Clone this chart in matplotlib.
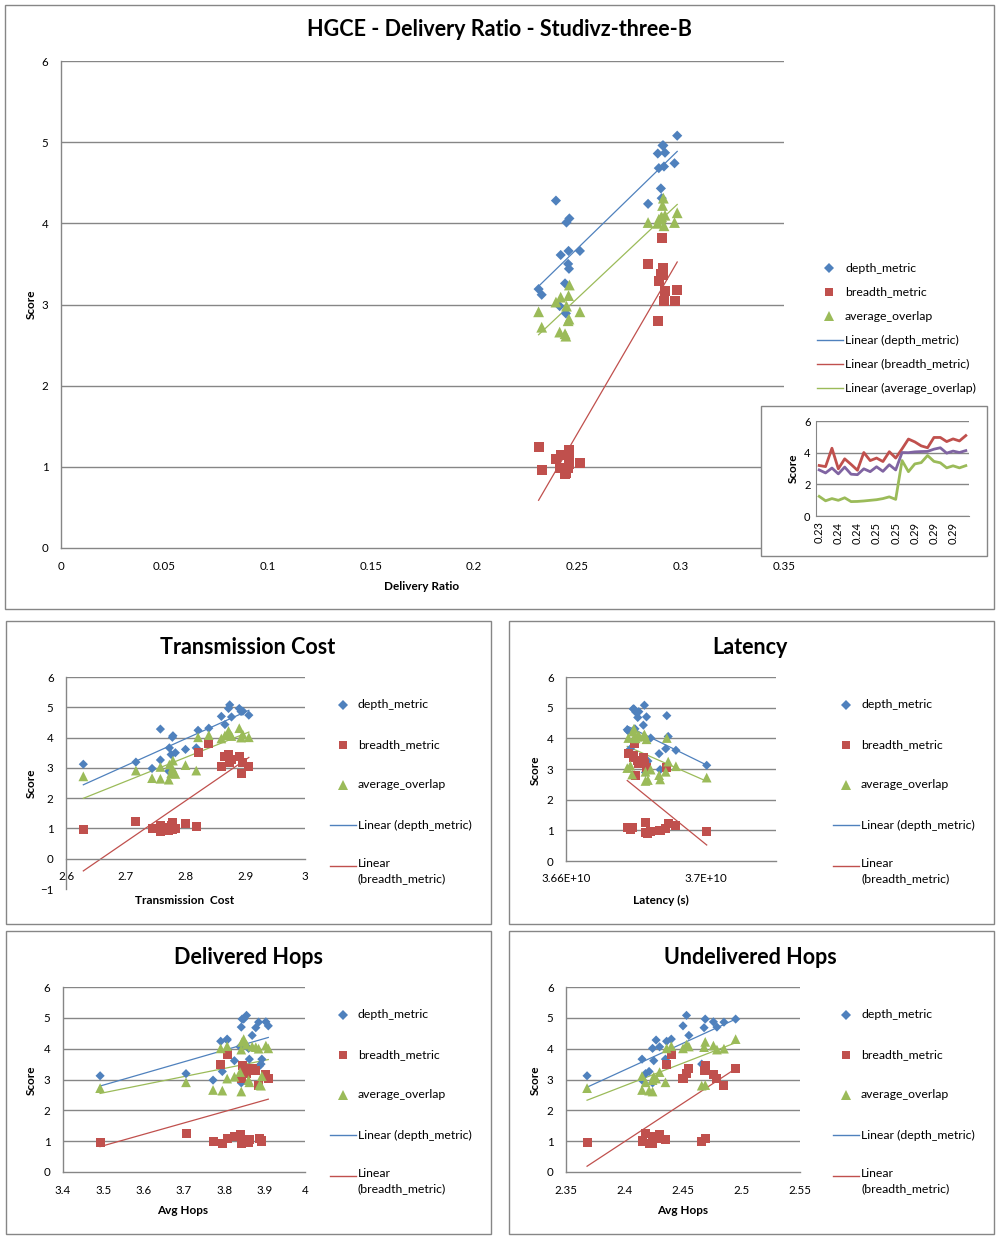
import matplotlib
matplotlib.use("Agg")
import matplotlib.pyplot as plt
import numpy as np
from matplotlib.patches import Rectangle
from matplotlib.lines import Line2D
from matplotlib.ticker import FuncFormatter

plt.rcParams['font.family'] = ['Lato', 'DejaVu Sans']

W, H = 1002, 1242

# one value per simulation run, runs sorted by delivery ratio
delivery_ratio = [0.2312, 0.2327, 0.2396, 0.2414, 0.2419, 0.2440, 0.2444, 0.2447,
                  0.2455, 0.2457, 0.2459, 0.2461, 0.2512, 0.2842, 0.2889, 0.2894,
                  0.2904, 0.2908, 0.2912, 0.2916, 0.2919, 0.2924, 0.2970, 0.2983]
depth_metric = [3.19, 3.12, 4.28, 2.98, 3.61, 3.26, 2.89, 4.01, 3.50, 3.66, 3.44, 4.06,
                3.66, 4.24, 4.86, 4.68, 4.43, 4.31, 4.96, 4.96, 4.70, 4.87, 4.74, 5.08]
breadth_metric = [1.24, 0.96, 1.10, 0.99, 1.15, 0.91, 0.92, 0.95, 0.99, 1.03, 1.10, 1.21,
                  1.05, 3.50, 2.80, 3.29, 3.37, 3.82, 3.45, 3.36, 3.04, 3.17, 3.04, 3.18]
average_overlap = [2.91, 2.72, 3.03, 2.66, 3.09, 2.64, 2.61, 2.98, 2.80, 3.11, 2.82, 3.24,
                   2.91, 4.01, 4.00, 4.05, 4.07, 4.08, 4.22, 4.31, 3.97, 4.10, 4.01, 4.13]
transmission_cost = [2.717, 2.629, 2.758, 2.744, 2.800, 2.758, 2.772, 2.778, 2.783, 2.773,
                     2.776, 2.779, 2.818, 2.821, 2.893, 2.877, 2.866, 2.839, 2.872, 2.890,
                     2.860, 2.896, 2.906, 2.874]
latency = [3.6827e10, 3.7002e10, 3.6775e10, 3.6869e10, 3.6914e10, 3.6834e10, 3.6827e10,
           3.6842e10, 3.6866e10, 3.6784e10, 3.6789e10, 3.6892e10, 3.6885e10, 3.6778e10,
           3.6799e10, 3.6805e10, 3.6821e10, 3.6797e10, 3.6792e10, 3.6794e10, 3.6830e10,
           3.6808e10, 3.6888e10, 3.6824e10]
delivered_hops = [3.705, 3.492, 3.807, 3.772, 3.825, 3.795, 3.842, 3.860, 3.891, 3.893,
                  3.887, 3.839, 3.862, 3.791, 3.885, 3.878, 3.869, 3.807, 3.844, 3.848,
                  3.842, 3.903, 3.909, 3.855]
undelivered_hops = [2.418, 2.368, 2.427, 2.415, 2.425, 2.421, 2.424, 2.424, 2.466, 2.415,
                    2.469, 2.430, 2.435, 2.436, 2.485, 2.468, 2.455, 2.440, 2.469, 2.495,
                    2.479, 2.476, 2.450, 2.453]

series_names = ['depth_metric', 'breadth_metric', 'average_overlap']
series_values = [depth_metric, breadth_metric, average_overlap]
series_colors = ['#4F81BD', '#C0504D', '#9BBB59']
series_markers = ['D', 's', '^']
inset_colors = ['#C0504D', '#9BBB59', '#8064A2']
GRID = '#868686'
TITLE_SIZE = 15.5
TICK_SIZE = 8.3
AXIS_TITLE_SIZE = 8.5
LEGEND_SIZE = 8.8

fig = plt.figure(figsize=(W / 100, H / 100), dpi=100)


def rect(x0, y0, x1, y1):
    # pixel box (top-left origin) -> figure fraction [left, bottom, width, height]
    return [x0 / W, 1 - y1 / H, (x1 - x0) / W, (y1 - y0) / H]


def fx(px):
    return px / W


def fy(py):
    return 1 - py / H


def frame(x0, y0, x1, y1, white=False, z=0):
    fig.patches.append(Rectangle((fx(x0), fy(y1)), (x1 - x0) / W, (y1 - y0) / H,
                                 transform=fig.transFigure, facecolor='white',
                                 fill=white, edgecolor=GRID, lw=1, zorder=z))


def scatter_panel(ax, x, xlim, xticks, ylim, yticks, msize, fmt='%g'):
    for vals, col, mk, name in zip(series_values, series_colors, series_markers, series_names):
        size = {'D': msize * 0.72, 's': msize, '^': msize * 1.08}[mk]
        ax.scatter(x, vals, marker=mk, s=size ** 2, color=col, edgecolors='none', zorder=3)
        k, b = np.polyfit(x, vals, 1)
        xs = np.array([min(x), max(x)])
        ax.plot(xs, k * xs + b, color=col, lw=0.9, zorder=2)
    ax.set_xlim(xlim)
    ax.set_ylim(ylim)
    ax.set_xticks(xticks)
    ax.set_yticks(yticks)
    ax.xaxis.set_major_formatter(FuncFormatter(lambda v, p: fmt % v))
    for s in ['top', 'right']:
        ax.spines[s].set_visible(False)
    for s in ['left', 'bottom']:
        ax.spines[s].set_color(GRID)
        ax.spines[s].set_linewidth(1)
    ax.spines['bottom'].set_position(('data', 0))
    ax.tick_params(length=0, labelsize=TICK_SIZE, pad=9)
    ax.yaxis.grid(True, color=GRID, lw=1)
    for t, gl in zip(yticks, ax.get_ygridlines()):
        if t <= 0:
            gl.set_visible(False)
    ax.set_axisbelow(True)


def legend(xm, xt, ys, n, wrap=False):
    for i in range(n):
        y = fy(ys[i])
        if i < 3:
            mk = series_markers[i]
            size = {'D': 4.8, 's': 6.3, '^': 6.8}[mk]
            fig.lines.append(Line2D([fx(xm)], [y], marker=mk, markersize=size, color=series_colors[i],
                                    markeredgewidth=0, linestyle='none', transform=fig.transFigure))
            label = series_names[i]
        else:
            col = series_colors[i - 3]
            fig.lines.append(Line2D([fx(xt - 28), fx(xt - 2)], [y, y], color=col, lw=1,
                                    transform=fig.transFigure))
            label = 'Linear (%s)' % series_names[i - 3]
            if wrap and i == 4:
                label = 'Linear\n(%s)' % series_names[i - 3]
        if '\n' in label:
            fig.text(fx(xt), y + 8 / H, label, fontsize=LEGEND_SIZE, va='top', ha='left', linespacing=1.4)
        else:
            fig.text(fx(xt), y, label, fontsize=LEGEND_SIZE, va='center', ha='left')


def titles(title, tx, ty, xlabel, xx, xy, sx, sy):
    fig.text(fx(tx), fy(ty), title, fontsize=TITLE_SIZE, fontweight='bold', ha='center', va='center')
    fig.text(fx(xx), fy(xy), xlabel, fontsize=AXIS_TITLE_SIZE, fontweight='bold', ha='center', va='center')
    fig.text(fx(sx), fy(sy), 'Score', fontsize=AXIS_TITLE_SIZE, fontweight='bold', rotation=90,
             ha='center', va='center')


# panel frames
frame(5, 5, 994, 609)
frame(6, 621, 491, 924)
frame(509, 621, 994, 924)
frame(6, 931, 491, 1234)
frame(509, 931, 994, 1234)

# main chart
ax = fig.add_axes(rect(61, 61, 784, 548))
scatter_panel(ax, delivery_ratio, (0, 0.35), np.arange(0, 0.351, 0.05), (0, 6), range(0, 7), 7.2)
titles('HGCE - Delivery Ratio - Studivz-three-B', 499, 30, 'Delivery Ratio', 422, 586, 31, 304)
legend(829, 845, [268, 292, 316, 340, 364, 388], 6)

# inset: the three metrics in run order
frame(761, 406, 987, 556, white=True, z=5)
axi = fig.add_axes(rect(816, 421, 969, 516))
axi.set_zorder(6)
idx = np.arange(len(delivery_ratio))
for vals, col in zip([depth_metric, breadth_metric, average_overlap], inset_colors):
    axi.plot(idx, vals, color=col, lw=2)
axi.set_xlim(-0.5, len(idx) - 0.5)
axi.set_ylim(0, 6)
axi.set_yticks([0, 2, 4, 6])
axi.set_xticks(idx[::3])
axi.set_xticklabels(['%.2f' % delivery_ratio[i] for i in idx[::3]], rotation=90)
axi.tick_params(length=0, labelsize=8, pad=4)
axi.yaxis.grid(True, color=GRID, lw=1)
axi.set_axisbelow(True)
for s in ['top', 'right']:
    axi.spines[s].set_visible(False)
for s in ['left', 'bottom']:
    axi.spines[s].set_color(GRID)
axi.set_ylabel('Score', fontsize=AXIS_TITLE_SIZE, fontweight='bold', labelpad=4)

# Transmission Cost
ax = fig.add_axes(rect(66, 677, 305, 889))
scatter_panel(ax, transmission_cost, (2.6, 3.0), np.arange(2.6, 3.01, 0.1), (-1, 6), range(-1, 7), 6.5)
titles('Transmission Cost', 248, 647, 'Transmission  Cost', 185, 900, 31, 783)
legend(343, 358, [705, 745, 785, 825, 866], 5, wrap=True)

# Latency
ax = fig.add_axes(rect(566, 677, 776, 861))
scatter_panel(ax, latency, (3.66e10, 3.72e10), [3.66e10, 3.70e10], (0, 6), range(0, 7), 6.5)
ax.set_xticklabels(['3.66E+10', '3.7E+10'])
titles('Latency', 750, 647, 'Latency (s)', 661, 900, 535, 770)
legend(846, 861, [705, 745, 785, 825, 866], 5, wrap=True)

# Delivered Hops
ax = fig.add_axes(rect(63, 987, 305, 1172))
scatter_panel(ax, delivered_hops, (3.4, 4.0), np.arange(3.4, 4.01, 0.1), (0, 6), range(0, 7), 6.5)
titles('Delivered Hops', 248, 957, 'Avg Hops', 183, 1210, 31, 1080)
legend(343, 358, [1015, 1055, 1095, 1135, 1176], 5, wrap=True)

# Undelivered Hops
ax = fig.add_axes(rect(566, 987, 800, 1172))
scatter_panel(ax, undelivered_hops, (2.35, 2.55), np.arange(2.35, 2.551, 0.05), (0, 6), range(0, 7), 6.5)
titles('Undelivered Hops', 750, 957, 'Avg Hops', 683, 1210, 535, 1080)
legend(846, 861, [1015, 1055, 1095, 1135, 1176], 5, wrap=True)

fig.savefig('out.png', dpi=100)
